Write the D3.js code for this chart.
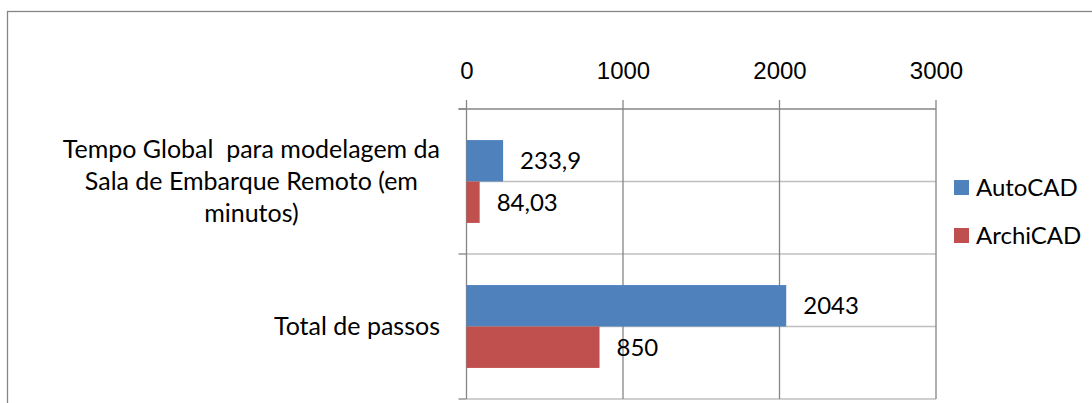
<!DOCTYPE html>
<html>

<head>
    <meta charset="utf-8">
    <style>
        body {
            margin: 0;
            background: #fff;
        }

        svg {
            display: block;
            font-family: Lato, 'Open Sans', sans-serif;
        }

        .x .domain,
        .y .domain {
            display: none;
        }

        .x .tick text {
            font-size: 24px;
            fill: #000;
        }

        .cat-label {
            font-size: 25px;
            fill: #000;
            white-space: pre;
        }

        .value-label,
        .legend text {
            font-size: 24px;
            fill: #000;
        }
    </style>
</head>

<body>
    <svg width="1092" height="403"></svg>

    <script src="https://d3js.org/d3.v7.min.js"></script>
    <script>
        // data
        const categories = [
            "Tempo Global  para modelagem da Sala de Embarque Remoto (em minutos)",
            "Total de passos"
        ];
        const series = ["AutoCAD", "ArchiCAD"];
        const autocad = [233.9, 2043];
        const archicad = [84.03, 850];
        const valueLabels = [["233,9", "2043"], ["84,03", "850"]];
        const xTicks = [0, 1000, 2000, 3000];
        const colors = ["#4F81BD", "#C0504D"];

        const values = [autocad, archicad];

        let svg = d3.select("svg");

        // outer chart frame (runs past the right and bottom of the picture)
        svg.append("rect")
            .attr("x", 7.5)
            .attr("y", 11.5)
            .attr("width", 1200)
            .attr("height", 500)
            .style("fill", "none")
            .style("stroke", "#868686")
            .style("stroke-width", 1.3)

        let x = d3.scaleLinear()
            .domain([0, 3000])
            .range([466.5, 936])

        let y = d3.scaleBand()
            .domain(categories)
            .range([109, 399])

        let inner = d3.scaleBand()
            .domain(series)
            .range([0, y.bandwidth()])
            .paddingOuter(0.75)

        // light horizontal lines: band edges and band centres
        let hLines = []
        categories.forEach(function (c) {
            hLines.push(y(c) + y.bandwidth() / 2)
            hLines.push(y(c) + y.bandwidth())
        })

        svg.append("g")
            .selectAll("line")
            .data(hLines)
            .join("line")
            .attr("x1", x(0))
            .attr("x2", x(3000))
            .attr("y1", function (d) { return d })
            .attr("y2", function (d) { return d })
            .style("stroke", "#bfbfbf")
            .style("stroke-width", 1.3)

        // value axis on top with vertical gridlines
        let xAxisSettings = d3.axisTop(x)
            .tickValues(xTicks)
            .tickSize(0)
            .tickPadding(30)
            .tickFormat(d3.format("d"))

        let xAxisTicks = svg.append("g")
            .attr("class", "x axis")
            .attr("transform", `translate(0,${y.range()[0]})`)
            .call(xAxisSettings)

        svg.append("g")
            .selectAll("line")
            .data(xTicks)
            .join("line")
            .attr("x1", function (d) { return x(d) })
            .attr("x2", function (d) { return x(d) })
            .attr("y1", y.range()[0] - 9)
            .attr("y2", y.range()[1])
            .style("stroke", "#868686")
            .style("stroke-width", 1.3)

        // top axis line
        svg.append("line")
            .attr("x1", x(0) - 8)
            .attr("x2", x(3000))
            .attr("y1", y.range()[0])
            .attr("y2", y.range()[0])
            .style("stroke", "#868686")
            .style("stroke-width", 1.3)

        // category axis ticks
        let catTicks = [y.range()[0]].concat(categories.map(function (c) { return y(c) + y.bandwidth() }))
        svg.append("g")
            .selectAll("line")
            .data(catTicks)
            .join("line")
            .attr("x1", x(0) - 8)
            .attr("x2", x(0))
            .attr("y1", function (d) { return d })
            .attr("y2", function (d) { return d })
            .style("stroke", "#868686")
            .style("stroke-width", 1.3)

        // bars
        series.forEach(function (s, i) {
            svg.append("g")
                .selectAll("rect")
                .data(categories)
                .join("rect")
                .attr("x", x(0))
                .attr("y", function (c) { return y(c) + inner(s) })
                .attr("width", function (c, j) { return x(values[i][j]) - x(0) })
                .attr("height", inner.bandwidth())
                .style("fill", colors[i])

            svg.append("g")
                .selectAll("text")
                .data(categories)
                .join("text")
                .attr("class", "value-label")
                .attr("x", function (c, j) { return x(values[i][j]) + 17 })
                .attr("y", function (c) { return y(c) + inner(s) + inner.bandwidth() / 2 })
                .attr("dy", "0.35em")
                .text(function (c, j) { return valueLabels[i][j] })
        })

        // category labels: block right-aligned to the axis, lines centred in the block
        let labelRight = 440
        let lineHeight = 32
        categories.forEach(function (c) {
            let t = svg.append("text")
                .attr("class", "cat-label")
                .attr("text-anchor", "middle")
            let words = c.split(" ")
            let lines = []
            let current = ""
            let probe = t.append("tspan")
            let widest = 0
            words.forEach(function (w) {
                let test = current === "" ? w : current + " " + w
                probe.text(test)
                if (probe.node().getComputedTextLength() > 400 && current !== "") {
                    lines.push(current)
                    current = w
                } else {
                    current = test
                }
            })
            lines.push(current)
            lines.forEach(function (l) {
                probe.text(l)
                widest = Math.max(widest, probe.node().getComputedTextLength())
            })
            probe.remove()

            let cx = labelRight - widest / 2
            let cy = y(c) + y.bandwidth() / 2
            let top = cy - (lines.length - 1) * lineHeight / 2
            lines.forEach(function (l, k) {
                t.append("tspan")
                    .attr("x", cx)
                    .attr("y", top + k * lineHeight)
                    .attr("dy", "0.35em")
                    .text(l)
            })
        })

        // legend
        let legend = svg.append("g")
            .attr("class", "legend")
            .selectAll("g")
            .data(series)
            .join("g")
            .attr("transform", function (d, i) { return `translate(954,${180 + i * 48})` })

        legend.append("rect")
            .attr("width", 15)
            .attr("height", 15)
            .style("fill", function (d, i) { return colors[i] })

        legend.append("text")
            .attr("x", 22)
            .attr("y", 7.5)
            .attr("dy", "0.35em")
            .text(function (d) { return d })
    </script>
</body>

</html>
